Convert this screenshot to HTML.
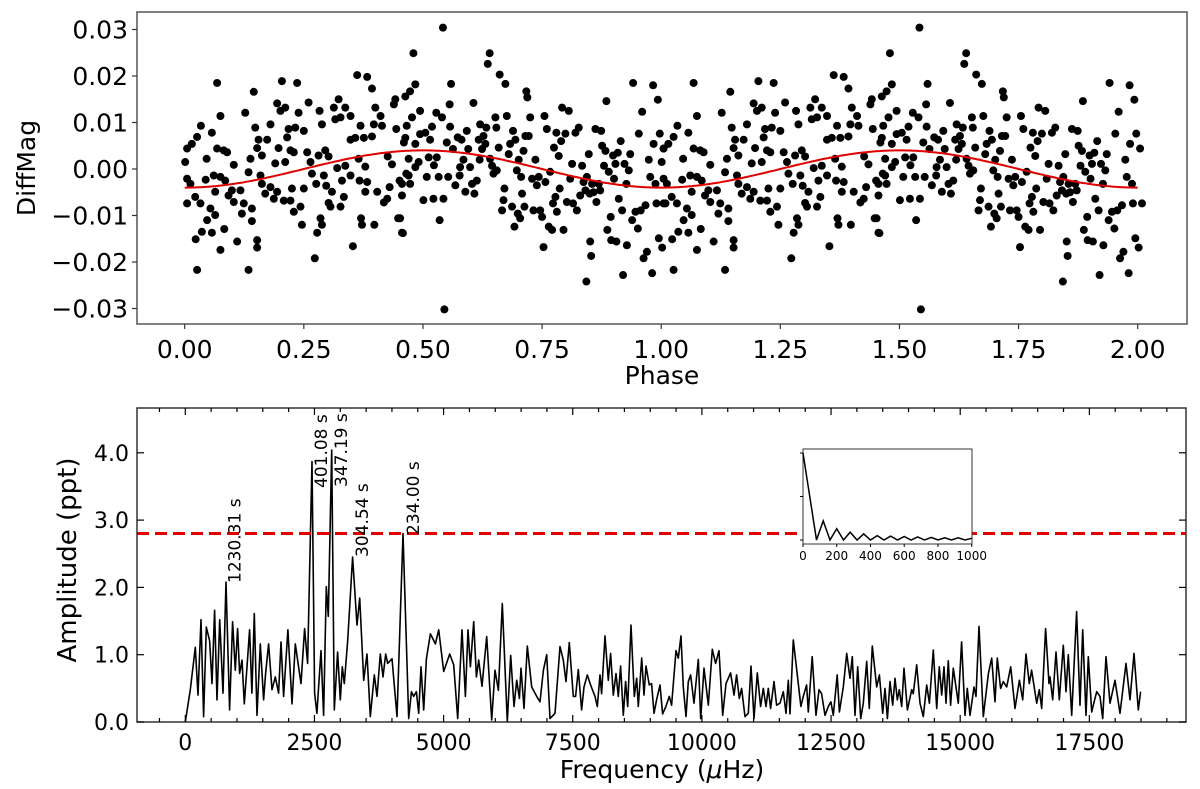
<!DOCTYPE html>
<html><head><meta charset="utf-8"><style>
html,body{margin:0;padding:0;background:#fff;}
svg{display:block;font-family:"DejaVu Sans","Liberation Sans",sans-serif;}
</style></head><body>
<svg id="chart" width="1200" height="789" viewBox="0 0 1200 789" xmlns="http://www.w3.org/2000/svg">
<g id="topPanel"></g>
<g id="botPanel"></g>
</svg>
<script>
// ---- Phase-folded light curve data (phase, diffmag in mmag) ----
const phasePts = [
[0.001,1.5],[0.005,4.4],[0.015,5.4],[0.026,6.9],[0.034,9.3],[0.005,-2.1],[0.012,-3.2],[0.005,-7.4],[0.022,-6.0],[0.033,-7.4],[0.023,-15.1],[0.026,-21.7],[0.046,2.2],[0.044,-2.3],[0.036,-13.5],[0.047,-11.0],[0.054,-8.5],[0.057,7.8],[0.061,-1.4],[0.064,-4.9],[0.064,-9.9],[0.057,-13.7],[0.068,18.5],[0.075,11.4],[0.068,4.4],[0.082,4.0],[0.089,3.6],[0.075,-1.7],[0.085,-2.5],[0.075,-17.4],[0.083,-12.9],[0.092,-5.7],[0.103,0.9],[0.099,-4.6],[0.103,-7.1],[0.110,-15.6],[0.117,-4.6],[0.120,-9.6],[0.124,-7.4],[0.127,12.1],[0.134,-0.7],[0.134,-21.7],[0.141,-8.5],[0.141,-11.2],[0.145,16.6],[0.148,8.9],[0.138,2.2],[0.155,6.3],[0.152,4.5],[0.152,-15.3],[0.152,-16.9],[0.159,-1.4],[0.162,-3.2],[0.162,2.9],[0.173,6.3],[0.169,-5.3],[0.180,9.6],[0.180,-3.9],[0.187,-6.4],[0.190,1.2],[0.194,14.1],[0.194,-4.9],[0.197,4.5],[0.201,12.5],[0.204,18.9],[0.211,13.2],[0.208,-6.8],[0.211,1.5],[0.215,6.8],[0.218,8.6],[0.222,4.0],[0.222,-6.8],[0.232,8.9],[0.229,3.6],[0.225,-4.2],[0.229,-9.2],[0.236,18.5],[0.239,12.1],[0.243,-8.1],[0.246,-12.0],[0.250,8.2],[0.250,-4.2],[0.257,3.6],[0.260,14.3],[0.264,1.5],[0.267,-1.0],[0.276,-3.2],[0.278,-13.7],[0.273,-19.2],[0.281,2.9],[0.283,12.5],[0.288,9.6],[0.292,-1.4],[0.295,4.0],[0.297,-3.6],[0.302,2.7],[0.302,-7.3],[0.306,-8.1],[0.285,-10.6],[0.288,-12.0],[0.309,-4.9],[0.313,13.2],[0.316,10.7],[0.323,15.0],[0.320,0.2],[0.327,-8.1],[0.327,11.1],[0.330,-2.5],[0.334,-6.0],[0.337,0.7],[0.337,13.2],[0.348,11.4],[0.348,-1.4],[0.348,6.3],[0.353,-16.6],[0.358,6.7],[0.362,20.2],[0.365,2.2],[0.367,-2.5],[0.369,9.3],[0.370,-10.6],[0.372,-12.0],[0.376,6.7],[0.379,0.5],[0.383,19.8],[0.383,-2.8],[0.379,-4.9],[0.393,17.3],[0.393,7.0],[0.397,9.6],[0.398,-12.0],[0.400,13.2],[0.404,-4.9],[0.411,11.4],[0.414,9.3],[0.418,-7.2],[0.425,-6.4],[0.426,2.7],[0.430,-3.9],[0.435,1.0],[0.439,13.9],[0.442,15.0],[0.444,8.6],[0.448,-10.6],[0.451,-2.5],[0.456,-13.7],[0.460,5.7],[0.463,15.6],[0.465,-1.0],
[0.452,-10.6],[0.458,-13.8],[0.456,-5.7],[0.456,-3.2],[0.463,6.7],[0.466,9.3],[0.470,2.2],[0.470,-1.4],[0.473,-3.2],[0.477,11.1],[0.480,24.9],[0.484,18.2],[0.484,5.4],[0.484,0.4],[0.473,16.7],[0.491,1.5],[0.494,12.5],[0.494,7.5],[0.501,-6.7],[0.505,7.8],[0.508,-1.7],[0.512,2.5],[0.515,6.3],[0.519,9.1],[0.522,-6.4],[0.523,0.8],[0.528,12.1],[0.529,2.5],[0.533,-1.7],[0.535,-11.0],[0.540,11.1],[0.542,30.4],[0.543,-6.4],[0.545,-30.2],[0.550,5.7],[0.553,-1.7],[0.556,13.9],[0.557,9.1],[0.559,18.3],[0.563,4.3],[0.568,-3.5],[0.573,6.8],[0.577,-1.4],[0.578,0.4],[0.581,6.3],[0.585,2.0],[0.589,-4.9],[0.592,8.2],[0.595,4.3],[0.599,0.4],[0.603,-3.2],[0.606,14.2],[0.608,-5.3],[0.613,-2.5],[0.617,6.3],[0.619,2.0],[0.620,9.6],[0.624,4.3],[0.627,7.1],[0.631,5.4],[0.633,8.9],[0.636,22.6],[0.640,24.9],[0.641,2.2],[0.645,0.7],[0.648,-1.0],[0.652,11.1],[0.654,8.9],[0.655,-0.3],[0.659,4.6],[0.661,20.3],[0.666,-8.9],[0.669,-6.7],[0.671,-4.2],[0.673,18.3],[0.676,11.4],[0.680,3.2],[0.683,5.4],[0.687,-8.1],[0.689,8.2],[0.692,-12.4],[0.694,6.3],[0.697,-0.3],[0.699,-9.6],[0.701,2.0],[0.704,-10.6],[0.706,-1.7],[0.708,-5.3],[0.711,3.9],[0.713,-8.1],[0.715,7.1],[0.717,16.7],[0.719,15.4],[0.722,7.1],[0.725,11.1],[0.729,-2.1],[0.732,-8.9],[0.736,2.0],[0.739,-3.5],[0.743,-1.7],[0.746,-8.9],[0.750,-10.3],[0.753,-16.8],[0.755,11.4],[0.757,-2.8],[0.760,8.6],[0.764,-12.4],[0.767,-0.6],[0.771,-13.1],[0.773,-7.4],[0.775,4.6],[0.778,-6.0],[0.780,7.8],[0.781,-9.2],[0.785,2.8],[0.787,-4.2],[0.790,6.0],[0.792,13.2],[0.795,-13.1],[0.799,7.6],[0.802,-7.1],[0.806,12.5],[0.809,-2.1],[0.813,1.1],[0.815,-7.4],[0.820,7.8],[0.823,-8.9],[0.827,8.9],[0.830,-5.7],[0.834,0.7],[0.837,-2.8],[0.841,-4.6],[0.843,-24.2],[0.844,-1.7],[0.848,3.2],[0.850,-5.3],[0.851,-15.6],[0.853,-18.7],[0.855,-3.2],[0.858,-5.0],[0.862,8.6],[0.864,-7.1],[0.869,-3.2],[0.872,-4.6],[0.874,8.2],[0.876,5.0],[0.880,0.7],[0.883,3.9],[0.885,14.6],[0.887,-13.1],[0.890,-0.6],[0.894,-10.3],[0.895,-15.3],[0.899,2.9],[0.901,-2.1],[0.904,1.1],[0.906,-15.6],[0.909,3.5],[0.911,-6.4],[0.915,6.0],[0.918,-8.9],[0.920,-22.8],[0.923,1.1],[0.927,-3.2],[0.928,-16.4],[0.932,-0.3],[0.935,3.2],[0.939,-11.0],[0.941,18.5],[0.946,-9.2],[0.951,-12.8],[0.953,7.6],[0.957,-8.9],[0.960,12.3],[0.963,-19.2],[0.967,-7.8],[0.970,-17.8],[0.974,2.0],[0.977,-1.7],[0.981,-22.4],[0.983,18.0],[0.984,5.4],[0.988,-3.2],[0.990,-7.4],[0.993,14.9],[0.995,-14.9],[0.997,7.6],[1.002,-16.9],[1.005,4.4],[1.009,-7.4]
];
const fitAmp = 4.0; // mmag
const phaseTicks = [0,0.25,0.5,0.75,1.0,1.25,1.5,1.75,2.0];
const phaseTickLabels = ["0.00","0.25","0.50","0.75","1.00","1.25","1.50","1.75","2.00"];
const magTicks = [0.03,0.02,0.01,0,-0.01,-0.02,-0.03];
const magTickLabels = ["0.03","0.02","0.01","0.00","\u22120.01","\u22120.02","\u22120.03"];

// ---- Periodogram data (frequency µHz, amplitude ppt) ----
const freqs = [0,97,193,245,303,355,406,471,516,568,613,665,729,787,858,916,968,1013,1052,1097,1142,1194,1245,1290,1336,1387,1452,1516,1555,1613,1678,1742,1807,1852,1903,1987,2065,2129,2239,2310,2368,2452,2503,2548,2626,2678,2729,2768,2833,2884,2949,3000,3039,3078,3143,3239,3323,3375,3453,3517,3582,3659,3711,3775,3827,3879,3917,4001,4098,4214,4324,4376,4421,4473,4518,4563,4615,4667,4744,4841,4906,5002,5118,5196,5273,5357,5422,5473,5518,5583,5634,5680,5744,5834,5931,5995,6060,6137,6234,6299,6363,6415,6467,6499,6557,6621,6705,6802,6866,6931,6995,7060,7157,7253,7318,7369,7434,7511,7556,7608,7672,7718,7782,7846,7930,7975,8027,8059,8124,8188,8233,8285,8337,8382,8427,8479,8524,8563,8627,8692,8737,8769,8834,8879,8917,8982,9027,9072,9124,9188,9240,9304,9369,9414,9498,9543,9595,9640,9692,9737,9782,9847,9931,9976,10040,10124,10202,10266,10331,10402,10466,10556,10621,10672,10724,10769,10834,10898,10950,11008,11072,11137,11189,11240,11285,11330,11395,11446,11511,11576,11627,11672,11705,11769,11847,11917,11962,12027,12059,12136,12208,12266,12317,12382,12446,12498,12543,12620,12661,12738,12803,12867,12912,12964,13015,13074,13125,13190,13241,13299,13383,13435,13500,13545,13590,13641,13693,13738,13783,13822,13867,13912,13977,14061,14093,14157,14222,14286,14351,14403,14480,14545,14596,14641,14686,14725,14770,14815,14867,14964,15028,15093,15138,15190,15267,15306,15364,15448,15545,15609,15674,15719,15783,15835,15900,15977,16061,16145,16209,16274,16338,16383,16480,16532,16577,16654,16719,16738,16790,16854,16919,16996,17048,17093,17158,17254,17319,17371,17435,17480,17545,17577,17642,17706,17758,17822,17900,17996,18093,18209,18287,18364,18448,18493];
const amps = [0,0.48,1.11,0.40,1.52,0.08,1.41,1.21,0.57,1.66,0.33,1.52,0.43,2.08,0.18,1.49,0.77,1.39,0.72,0.92,0.27,0.82,1.37,0.43,1.61,0.10,1.16,0.33,0.72,1.16,0.48,0.67,0.43,1.19,0.38,1.37,0.27,1.16,0.57,1.39,0.87,3.87,0.43,0.13,1.06,0.10,2.01,1.57,4.04,0.18,1.04,0.33,0.82,0.57,1.21,2.45,1.44,1.84,0.62,1.01,0.08,0.70,0.38,1.01,0.67,1.01,0.87,0.94,0.08,2.80,0.05,0.45,0.38,0.45,0.13,0.82,0.18,0.94,1.31,1.16,1.37,0.75,1.01,0.85,0.05,1.37,0.38,1.37,0.82,1.49,0.67,0.92,0.53,1.27,0.03,0.77,0.47,1.76,0,0.99,0.23,0.62,0.35,0.80,0.20,1.13,0.52,0.38,0.30,0.77,1.00,0.05,0.13,1.12,0.92,0.60,1.18,0.38,0.38,0.78,0.18,0.52,0.70,0.55,0.38,0.23,0.70,0.42,1.28,0.62,1.02,0.40,0.72,0.38,0.83,0.10,0.60,0.23,1.44,0.38,0.65,0.23,0.95,0.40,0.83,0.55,0.57,0.13,0.33,0.55,0.12,0.23,0.38,0.25,1.06,0.95,1.28,0.52,0.08,0.60,0.70,0.28,0.93,0.05,0.80,0.25,1.08,0.87,1.06,0.10,0.57,0.73,0.40,0.70,0.35,0.50,0.08,0.13,0.83,0.05,0.73,0.23,0.50,0.23,0.50,0.20,0.60,0.25,0.28,0.45,0.13,0.62,0.12,1.22,0.70,0.23,0.38,0.55,0.15,0.97,0.10,0.48,0.42,0.10,0.23,0.30,0.10,0.70,0.15,0.52,1.02,0.65,0.97,0.10,0.82,0.05,0.28,0.90,0.20,1.13,0.52,0.70,0.13,0.50,0.05,0.60,0.25,0.65,0.33,0.48,0.23,0.80,0.18,0.48,0.42,0.85,0.28,0.08,0.55,0.28,1.07,0.20,0.82,0.40,0.82,0.28,0.91,0.25,0.80,0.28,1.19,0.10,0.50,0.10,0.52,0.38,1.42,0.08,0.72,0.95,0.30,0.95,0.50,0.60,0.52,0.82,0.20,0.62,0.33,1.01,0.57,0.77,0.28,0.48,0.20,1.39,0.57,0.67,0.33,1.04,0.33,1.14,0.45,1.00,0.10,1.64,0.25,1.37,0.10,0.97,0.15,0.25,0.45,0.38,0.05,0.97,0.28,0.62,0.13,0.87,0.33,1.02,0.18,0.45];
const threshold = 2.8;
const freqTicks = [0,2500,5000,7500,10000,12500,15000,17500];
const freqTickLabels = ["0","2500","5000","7500","10000","12500","15000","17500"];
const ampTicks = [0,1,2,3,4];
const ampTickLabels = ["0.0","1.0","2.0","3.0","4.0"];
const peakFreqs = [813,2493,2880,3284,4274];
const peakLabels = ["1230.31 s","401.08 s","347.19 s","304.54 s","234.00 s"];
const peakLabelBase = [583,488,487,557,535];
// ---- Inset: spectral window ----
const winFreqs = [0,80,120,160,200,240,280,320,360,400,440,480,520,560,600,640,680,720,760,800,840,880,920,960,1000];
const winAmps = [1.0,0,0.22,0,0.13,0,0.09,0,0.07,0,0.05,0,0.045,0,0.04,0,0.035,0,0.03,0,0.025,0,0.025,0,0.02];
const winTicks = [0,200,400,600,800,1000];

const NS="http://www.w3.org/2000/svg";
function mk(parent,tag,attrs){const el=document.createElementNS(NS,tag);for(const k in attrs)el.setAttribute(k,attrs[k]);parent.appendChild(el);return el;}

// ===== TOP PANEL =====
const topG=document.getElementById('topPanel');
const tL=137,tR=1187,tT=12,tB=324;
const px=p=>184.7+p*476.5;
const py=v=>169-v*4650;
let e;
e=mk(topG,'rect',{x:tL,y:tT,width:tR-tL,height:tB-tT,fill:'#fff'});


const dots=mk(topG,'g',{fill:'#000'});


phasePts.forEach(([p,m])=>{
  [p,p+1].forEach(pp=>{
    if(pp<0||pp>2.01)return;
    const c=mk(dots,'circle',{cx:px(pp),cy:py(m/1000),r:4});
    
    
  });
});
let d='';
for(let i=0;i<=400;i++){const p=i/200;d+=(i?'L':'M')+px(p).toFixed(1)+','+py(-fitAmp/1000*Math.cos(2*Math.PI*p)).toFixed(1);}
e=mk(topG,'path',{d:d,fill:'none',stroke:'#e00000','stroke-width':2});


e=mk(topG,'rect',{x:tL,y:tT,width:tR-tL,height:tB-tT,fill:'none',stroke:'#555','stroke-width':1.5});


phaseTicks.forEach((t,i)=>{
  mk(topG,'line',{x1:px(t),x2:px(t),y1:tB,y2:tB+5,stroke:'#333','stroke-width':1.2});
  e=mk(topG,'text',{x:px(t),y:tB+34,'font-size':25,'text-anchor':'middle',fill:'#000'});
  e.textContent=phaseTickLabels[i];
  
  
});
magTicks.forEach((t,i)=>{
  mk(topG,'line',{x1:tL-5,x2:tL,y1:py(t),y2:py(t),stroke:'#333','stroke-width':1.2});
  e=mk(topG,'text',{x:128,y:py(t)+9,'font-size':25,'text-anchor':'end',fill:'#000'});
  e.textContent=magTickLabels[i];
  
  
});
e=mk(topG,'text',{x:662,y:384,'font-size':25,'text-anchor':'middle',fill:'#000'});
e.textContent='Phase';


e=mk(topG,'text',{x:0,y:0,'font-size':25,'text-anchor':'middle',fill:'#000',transform:'translate(35,168) rotate(-90)'});
e.textContent='DiffMag';



// ===== BOTTOM PANEL =====
const botG=document.getElementById('botPanel');
const bL=137,bR=1186,bT=408,bB=722;
const fx=f=>185.3+f*0.05166;
const ay=a=>722-a*67.3;
e=mk(botG,'rect',{x:bL,y:bT,width:bR-bL,height:bB-bT,fill:'#fff'});


d='';
const nSpec=Math.min(freqs.length,amps.length);
for(let i=0;i<nSpec;i++){d+=(i?'L':'M')+fx(freqs[i]).toFixed(1)+','+ay(amps[i]).toFixed(1);}
e=mk(botG,'path',{d:d,fill:'none',stroke:'#000','stroke-width':1.6,'stroke-linejoin':'round'});


e=mk(botG,'line',{x1:bL,x2:bR,y1:ay(threshold),y2:ay(threshold),stroke:'#e00000','stroke-width':3,'stroke-dasharray':'12,6'});


peakFreqs.forEach((f,i)=>{
  e=mk(botG,'text',{x:0,y:0,'font-size':17,fill:'#000',transform:'translate('+(fx(f)+13)+','+peakLabelBase[i]+') rotate(-90)'});
  e.textContent=peakLabels[i];
  
  
});
e=mk(botG,'rect',{x:bL,y:bT,width:bR-bL,height:bB-bT,fill:'none',stroke:'#333','stroke-width':1.5});


for(let f=-500;f<=19500;f+=500){
  const x=fx(f); if(x<bL||x>bR)continue;
  const L=(f%2500===0)?7:4;
  mk(botG,'line',{x1:x,x2:x,y1:bB,y2:bB-L,stroke:'#000','stroke-width':1.2});
  mk(botG,'line',{x1:x,x2:x,y1:bT,y2:bT+L,stroke:'#000','stroke-width':1.2});
}
freqTicks.forEach((t,i)=>{
  e=mk(botG,'text',{x:fx(t),y:bB+28,'font-size':22,'text-anchor':'middle',fill:'#000'});
  e.textContent=freqTickLabels[i];
  
  
});
ampTicks.forEach((t,i)=>{
  mk(botG,'line',{x1:bL,x2:bL+7,y1:ay(t),y2:ay(t),stroke:'#000','stroke-width':1.2});
  mk(botG,'line',{x1:bR-7,x2:bR,y1:ay(t),y2:ay(t),stroke:'#000','stroke-width':1.2});
  e=mk(botG,'text',{x:129,y:ay(t)+8,'font-size':22,'text-anchor':'end',fill:'#000'});
  e.textContent=ampTickLabels[i];
  
  
});
e=mk(botG,'text',{x:662,y:778,'font-size':25,'text-anchor':'middle',fill:'#000'});
e.appendChild(document.createTextNode('Frequency ('));
const mu=mk(e,'tspan',{'font-style':'italic'});
mu.textContent='\u03bc';
e.appendChild(document.createTextNode('Hz)'));


e=mk(botG,'text',{x:0,y:0,'font-size':26,'text-anchor':'middle',fill:'#000',transform:'translate(76,560) rotate(-90)'});
e.textContent='Amplitude (ppt)';



// ===== INSET =====
const ins=mk(botG,'g',{});


const iL=803,iR=972,iT=449,iB=544;
const wx=f=>iL+f*0.1687;
const wy=a=>540-a*87;
mk(ins,'rect',{x:iL,y:iT,width:iR-iL,height:iB-iT,fill:'#fff',stroke:'#333','stroke-width':1});
d='';
winFreqs.forEach((f,i)=>{d+=(i?'L':'M')+wx(f).toFixed(1)+','+wy(winAmps[i]).toFixed(1);});
e=mk(ins,'path',{d:d,fill:'none',stroke:'#000','stroke-width':1.5});


winTicks.forEach(t=>{
  mk(ins,'line',{x1:wx(t),x2:wx(t),y1:iB,y2:iB+3,stroke:'#000','stroke-width':1});
  e=mk(ins,'text',{x:wx(t),y:iB+16,'font-size':12,'text-anchor':'middle',fill:'#000'});
  e.textContent=String(t);
  
  
});
[0,0.5,1].forEach(t=>{mk(ins,'line',{x1:iL-3,x2:iL,y1:wy(t),y2:wy(t),stroke:'#000','stroke-width':1});});
</script>
</body></html>
